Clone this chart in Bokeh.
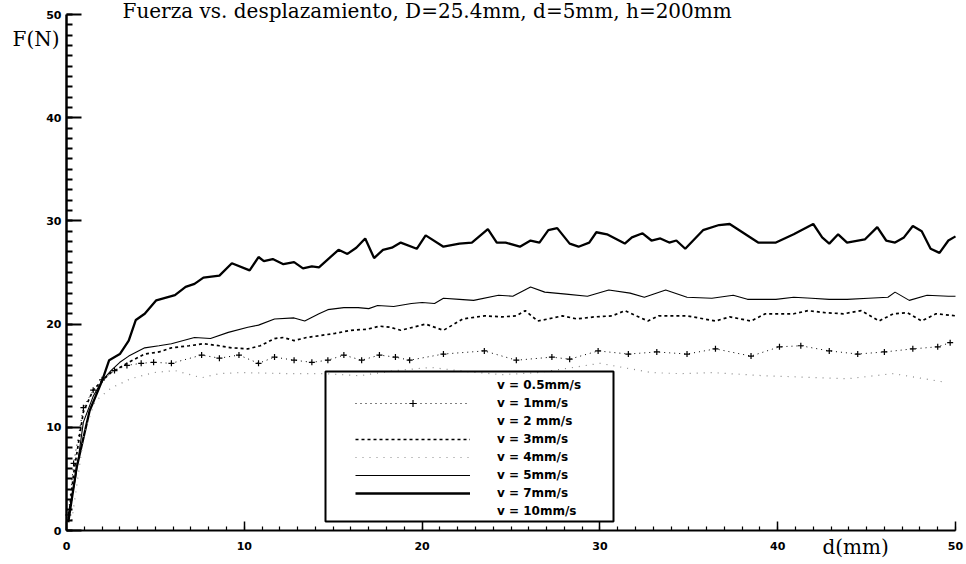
from bokeh.plotting import figure
from bokeh.models import (Range1d, SingleIntervalTicker, Legend, LegendItem,
                          BoxAnnotation, Label, ColumnDataSource)
from bokeh.embed import file_html
from bokeh.resources import INLINE

# Force F (N) against displacement d (mm), one series per speed
labels = ["v = 0.5mm/s", "v = 1mm/s", "v = 2 mm/s", "v = 3mm/s",
          "v = 4mm/s", "v = 5mm/s", "v = 7mm/s", "v = 10mm/s"]

d_v7 = [0.1, 0.56, 1.3, 2.0, 2.4, 3.0, 3.5, 3.9, 4.4, 5.05, 6.1, 6.7, 7.2, 7.7, 8.6, 9.3,
        10.3, 10.8, 11.1, 11.6, 12.2, 12.8, 13.3, 13.8, 14.2, 15.3, 15.8, 16.3, 16.8, 17.3,
        17.8, 18.3, 18.8, 19.7, 20.2, 21.2, 22.1, 22.8, 23.7, 24.2, 24.7, 25.5, 26.1, 26.6,
        27.1, 27.6, 28.3, 28.8, 29.4, 29.8, 30.4, 31.4, 31.8, 32.4, 32.9, 33.4, 33.9, 34.3,
        34.8, 35.8, 36.7, 37.3, 38.9, 39.9, 40.9, 42.0, 42.5, 42.9, 43.4, 43.9, 44.9, 45.6,
        46.1, 46.6, 47.1, 47.6, 48.1, 48.6, 49.1, 49.6, 50.0]
f_v7 = [0.8, 6.0, 11.6, 14.5, 16.5, 17.1, 18.4, 20.4, 21.0, 22.3, 22.8, 23.6, 23.9, 24.5, 24.7,
        25.9, 25.2, 26.5, 26.1, 26.3, 25.8, 26.0, 25.4, 25.6, 25.5, 27.2, 26.8, 27.4, 28.3,
        26.4, 27.2, 27.4, 27.9, 27.3, 28.6, 27.5, 27.8, 27.9, 29.2, 27.9, 27.9, 27.5, 28.1,
        27.9, 29.1, 29.3, 27.8, 27.5, 27.9, 28.9, 28.7, 27.8, 28.4, 28.8, 28.1, 28.3, 27.9,
        28.1, 27.3, 29.1, 29.6, 29.7, 27.9, 27.9, 28.7, 29.7, 28.4, 27.8, 28.7, 27.9, 28.2,
        29.4, 28.1, 27.9, 28.4, 29.5, 29.0, 27.3, 26.9, 28.1, 28.5]

d_v5 = [0.1, 0.5, 0.95, 1.5, 2.0, 2.5, 3.0, 3.5, 4.4, 5.2, 5.9, 7.2, 8.1, 9.1, 10.2, 10.8,
        11.7, 12.8, 13.4, 14.2, 14.7, 15.6, 16.4, 17.0, 17.5, 18.4, 19.4, 20.0, 20.7, 21.2,
        22.1, 22.9, 24.3, 25.1, 26.1, 26.9, 28.1, 29.3, 30.5, 31.7, 32.5, 33.7, 34.9, 36.3,
        37.5, 38.3, 39.9, 40.9, 41.9, 42.9, 43.9, 45.1, 46.2, 46.6, 47.4, 48.4, 49.6, 50.0]
f_v5 = [1.5, 5.0, 10.5, 13.0, 14.5, 15.5, 16.3, 16.9, 17.7, 17.9, 18.1, 18.7, 18.6, 19.2,
        19.7, 19.9, 20.5, 20.6, 20.3, 21.0, 21.4, 21.6, 21.6, 21.5, 21.8, 21.7, 22.0, 22.1,
        22.0, 22.5, 22.4, 22.3, 22.8, 22.7, 23.6, 23.1, 22.9, 22.7, 23.3, 23.0, 22.6, 23.3,
        22.6, 22.5, 22.8, 22.4, 22.4, 22.6, 22.5, 22.4, 22.4, 22.5, 22.6, 23.1, 22.3, 22.8,
        22.7, 22.7]

d_v3 = [0.1, 0.4, 0.95, 1.5, 2.0, 2.5, 3.5, 4.4, 5.2, 5.9, 6.9, 7.7, 8.6, 9.3, 10.2, 10.9,
        11.7, 12.2, 12.8, 13.5, 14.3, 15.1, 16.0, 16.9, 17.6, 18.2, 18.8, 19.5, 20.2, 21.2,
        22.3, 23.5, 24.5, 25.3, 25.8, 26.5, 27.1, 27.9, 28.7, 29.7, 30.7, 31.4, 32.7, 33.3,
        34.9, 36.5, 37.3, 38.5, 39.3, 40.9, 41.7, 42.7, 43.7, 44.7, 45.7, 46.5, 47.3, 48.1,
        48.9, 50.0]
f_v3 = [1.0, 5.5, 11.5, 13.6, 14.5, 15.3, 16.3, 17.1, 17.3, 17.7, 17.9, 18.1, 17.9, 17.7,
        17.6, 17.9, 18.6, 18.7, 18.4, 18.7, 18.9, 19.1, 19.4, 19.5, 19.8, 19.7, 19.4, 19.7,
        20.0, 19.4, 20.5, 20.8, 20.7, 20.8, 21.3, 20.3, 20.5, 20.8, 20.5, 20.7, 20.8, 21.3,
        20.3, 20.8, 20.8, 20.3, 20.7, 20.3, 21.0, 21.0, 21.3, 21.1, 21.0, 21.3, 20.3, 21.0,
        21.1, 20.3, 21.0, 20.8]

d_v1 = [0.1, 0.4, 0.95, 1.5, 2.0, 2.7, 3.4, 4.2, 4.9, 5.9, 7.6, 8.6, 9.7, 10.8, 11.7, 12.8,
        13.8, 14.7, 15.6, 16.6, 17.6, 18.5, 19.3, 21.2, 23.5, 25.3, 27.3, 28.3, 29.9, 31.6,
        33.2, 34.9, 36.5, 38.5, 40.1, 41.3, 42.9, 44.5, 46.0, 47.6, 49.0, 49.7]
f_v1 = [1.5, 6.5, 11.9, 13.6, 14.6, 15.5, 16.0, 16.2, 16.3, 16.2, 17.0, 16.7, 17.0, 16.2,
        16.8, 16.5, 16.3, 16.5, 17.0, 16.5, 17.0, 16.8, 16.5, 17.1, 17.4, 16.5, 16.8, 16.6,
        17.4, 17.1, 17.3, 17.1, 17.6, 16.9, 17.8, 17.9, 17.4, 17.1, 17.3, 17.6, 17.8, 18.2]

d_v4 = [0.3, 1.0, 1.6, 2.5, 3.0, 3.6, 4.9, 6.1, 7.6, 8.6, 9.8, 12.6, 14.5, 16.5, 18.5, 20.5,
        22.5, 24.5, 26.5, 28.5, 30.0, 32.9, 34.5, 36.3, 39.2, 40.9, 43.9, 46.5, 49.3]
f_v4 = [1.0, 9.5, 12.5, 13.8, 14.2, 14.7, 15.3, 15.5, 14.8, 15.2, 15.3, 15.2, 15.2, 15.0,
        15.5, 15.8, 15.4, 15.1, 15.3, 15.8, 16.2, 15.3, 15.2, 15.3, 15.0, 14.9, 14.7, 15.2,
        14.4]

x_ticks = [0, 10, 20, 30, 40, 50]
y_ticks = [0, 10, 20, 30, 40, 50]

W, H = 966, 564
# pixel placement of the axes inside the canvas
AX_LEFT, AX_RIGHT, AX_TOP, AX_BOTTOM = 66, 955, 14, 530

x0, x1 = x_ticks[0], x_ticks[-1]
y0, y1 = y_ticks[0], y_ticks[-1]
sx = (x1 - x0) / (AX_RIGHT - AX_LEFT)
sy = (y1 - y0) / (AX_BOTTOM - AX_TOP)

# the plotting frame covers the whole canvas; axes sit at d = 0 and F = 0
p = figure(width=W, height=H, output_backend="svg", toolbar_location=None,
           x_range=Range1d(x0 - AX_LEFT * sx, x1 + (W - AX_RIGHT) * sx),
           y_range=Range1d(y0 - (H - AX_BOTTOM) * sy, y1 + AX_TOP * sy),
           min_border=0, outline_line_color=None,
           background_fill_color="white", border_fill_color="white")
p.grid.visible = False

tick_font = "DejaVu Sans"
for ax in (p.xaxis[0], p.yaxis[0]):
    ax.ticker = SingleIntervalTicker(interval=10, num_minor_ticks=10)
    ax.fixed_location = 0
    ax.bounds = (0, 50)
    ax.axis_line_color = "black"
    ax.major_tick_line_color = "black"
    ax.minor_tick_line_color = "black"
    ax.major_tick_out = 0
    ax.minor_tick_out = 0
    ax.major_label_text_font = tick_font
    ax.major_label_text_font_style = "bold"
    ax.major_label_text_font_size = "11px"
    ax.major_label_text_color = "black"

p.xaxis.axis_line_width = 2
p.xaxis.major_tick_line_width = 1.5
p.xaxis.minor_tick_line_width = 1.2
p.xaxis.major_tick_in = 9
p.xaxis.minor_tick_in = 4
p.xaxis.major_label_standoff = 11

p.yaxis.axis_line_width = 2.5
p.yaxis.major_tick_line_width = 2
p.yaxis.minor_tick_line_width = 2
p.yaxis.major_tick_in = 15
p.yaxis.minor_tick_in = 6
p.yaxis.major_label_standoff = 5

# Series
r_v7 = p.line(d_v7, f_v7, line_color="black", line_width=2.3)
r_v5 = p.line(d_v5, f_v5, line_color="black", line_width=1.1)
r_v3 = p.line(d_v3, f_v3, line_color="black", line_width=1.7, line_dash="3 3")
r_v1 = p.line(d_v1, f_v1, line_color="black", line_width=1.0, line_dash="1 4")
r_v1m = p.scatter(d_v1, f_v1, marker="cross", size=6, line_color="black", line_width=1.2)
r_v4 = p.line(d_v4, f_v4, line_color="#8a8a8a", line_width=1.2, line_dash="1 6")

# Speeds that print too faintly to show: entries only
empty = ColumnDataSource(data=dict(x=[], y=[]))
r_v05 = p.line("x", "y", source=empty, line_alpha=0)
r_v2 = p.line("x", "y", source=empty, line_alpha=0)
r_v10 = p.line("x", "y", source=empty, line_alpha=0)

renderers = [[r_v05], [r_v1, r_v1m], [r_v2], [r_v3], [r_v4], [r_v5], [r_v7], [r_v10]]
items = [LegendItem(label=lab, renderers=rs) for lab, rs in zip(labels, renderers)]

legend = Legend(items=items, location=(355, H - 520), padding=0, spacing=0, margin=0,
                glyph_width=115, glyph_height=18, label_height=18, label_standoff=27,
                label_text_font=tick_font, label_text_font_style="bold",
                label_text_font_size="12px", label_text_color="black",
                background_fill_alpha=0, border_line_alpha=0)
p.add_layout(legend, "center")

p.add_layout(BoxAnnotation(left=325, right=613, bottom=H - 521, top=H - 371,
                           left_units="screen", right_units="screen",
                           bottom_units="screen", top_units="screen",
                           fill_alpha=0, line_color="black", line_alpha=1.0,
                           line_width=2))


def text_at(txt, left, baseline, size="20px"):
    # place a serif caption with its baseline at a canvas row
    p.add_layout(Label(x=left, y=H - baseline + 7, x_units="screen", y_units="screen",
                       text=txt, text_font="DejaVu Serif", text_font_size=size,
                       text_color="black", text_baseline="alphabetic"))


text_at("Fuerza vs. desplazamiento, D=25.4mm, d=5mm, h=200mm", 122, 17)
text_at("F(N)", 12, 45)
text_at("d(mm)", 822, 553)

open("out.html", "w").write(file_html(p, INLINE))
